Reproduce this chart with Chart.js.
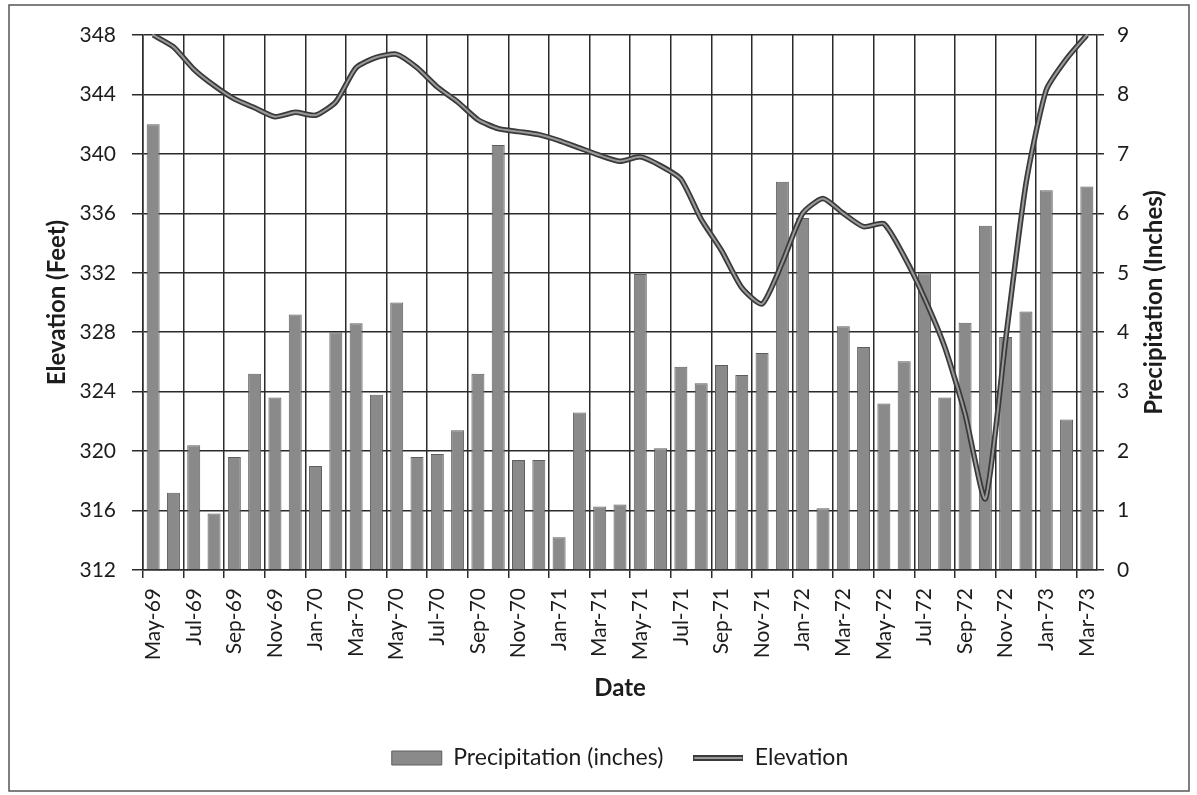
<!DOCTYPE html>
<html>
<head>
<meta charset="utf-8">
<script src="https://cdn.jsdelivr.net/npm/chart.js@4.4.1/dist/chart.umd.min.js"></script>
<style>
  html, body { margin: 0; padding: 0; background: #fff; }
  #wrap { position: relative; width: 1197px; height: 795px; }
</style>
</head>
<body>
<div id="wrap"><canvas id="chart" width="1197" height="795"></canvas></div>
<script>
// monthly record, May 1969 - Mar 1973
const months = [
  'May-69', 'Jun-69', 'Jul-69', 'Aug-69', 'Sep-69', 'Oct-69', 'Nov-69', 'Dec-69',
  'Jan-70', 'Feb-70', 'Mar-70', 'Apr-70', 'May-70', 'Jun-70', 'Jul-70', 'Aug-70',
  'Sep-70', 'Oct-70', 'Nov-70', 'Dec-70',
  'Jan-71', 'Feb-71', 'Mar-71', 'Apr-71', 'May-71', 'Jun-71', 'Jul-71', 'Aug-71',
  'Sep-71', 'Oct-71', 'Nov-71', 'Dec-71',
  'Jan-72', 'Feb-72', 'Mar-72', 'Apr-72', 'May-72', 'Jun-72', 'Jul-72', 'Aug-72',
  'Sep-72', 'Oct-72', 'Nov-72', 'Dec-72',
  'Jan-73', 'Feb-73', 'Mar-73'
];

// inches
const precipitation = [
  7.5, 1.3, 2.1, 0.95, 1.9, 3.3, 2.9, 4.3,
  1.75, 4.0, 4.15, 2.95, 4.5, 1.9, 1.95, 2.35,
  3.3, 7.15, 1.85, 1.85,
  0.55, 2.65, 1.07, 1.1, 4.98, 2.05, 3.42, 3.14,
  3.45, 3.28, 3.65, 6.53,
  5.92, 1.04, 4.1, 3.75, 2.8, 3.51, 4.99, 2.9,
  4.16, 5.79, 3.92, 4.35,
  6.39, 2.53, 6.45
];

// feet
const elevation = [
  348.0, 347.2, 345.7, 344.6, 343.7, 343.1, 342.5, 342.8,
  342.6, 343.5, 345.8, 346.5, 346.7, 345.8, 344.5, 343.5,
  342.3, 341.7, 341.5, 341.3,
  340.9, 340.4, 339.9, 339.5, 339.8, 339.2, 338.3, 335.6,
  333.5, 331.0, 329.9, 332.7,
  336.0, 337.0, 336.0, 335.1, 335.3, 333.1, 330.3, 327.0,
  322.5, 316.8, 327.5, 338.0,
  344.3, 346.4, 348.0
];

const elevTicks = [312, 316, 320, 324, 328, 332, 336, 340, 344, 348];
const precipTicks = [0, 1, 2, 3, 4, 5, 6, 7, 8, 9];

const gridDark = '#2b2b2b';
const textDark = '#1c1c1c';
const fontFamily = 'Lato, "Liberation Sans", sans-serif';

Chart.defaults.font.family = fontFamily;
Chart.defaults.color = textDark;

// legend swatch for the outlined elevation line
const lineSwatch = document.createElement('canvas');
lineSwatch.width = 50;
lineSwatch.height = 6;
(function () {
  const c = lineSwatch.getContext('2d');
  c.fillStyle = '#3a3a3a';
  c.fillRect(0, 0, 50, 6);
  c.fillStyle = '#9a9a9a';
  c.fillRect(1, 2, 48, 2);
})();

// white page with the thin frame around the whole figure
const framePlugin = {
  id: 'frame',
  beforeDraw(chart) {
    const c = chart.ctx;
    c.save();
    c.fillStyle = '#fff';
    c.fillRect(0, 0, chart.width, chart.height);
    c.strokeStyle = '#555';
    c.lineWidth = 1.5;
    c.strokeRect(9, 5, chart.width - 17, chart.height - 9);
    c.restore();
  }
};

// lighter core stroked over the dark elevation line
const doubleLine = {
  id: 'doubleLine',
  afterDatasetDraw(chart, args) {
    const meta = args.meta;
    if (meta.type !== 'line') return;
    const {ctx, chartArea} = chart;
    ctx.save();
    ctx.beginPath();
    ctx.rect(chartArea.left, chartArea.top - 4, chartArea.right - chartArea.left, chartArea.bottom - chartArea.top + 8);
    ctx.clip();
    ctx.beginPath();
    meta.dataset.path(ctx);
    ctx.lineJoin = 'round';
    ctx.lineCap = 'round';
    ctx.strokeStyle = '#9a9a9a';
    ctx.lineWidth = 2;
    ctx.stroke();
    ctx.restore();
  }
};

// right axis title, reading bottom to top like the left one
const rightTitle = {
  id: 'rightTitle',
  afterDraw(chart) {
    const s = chart.scales.y1;
    const c = chart.ctx;
    c.save();
    c.translate(s.right - 43, (s.top + s.bottom) / 2);
    c.rotate(-Math.PI / 2);
    c.font = 'bold 24px ' + fontFamily;
    c.textAlign = 'center';
    c.textBaseline = 'middle';
    c.fillStyle = textDark;
    c.fillText('Precipitation (Inches)', 0, 0);
    c.restore();
  }
};

new Chart(document.getElementById('chart'), {
  data: {
    labels: months,
    datasets: [
      {
        type: 'line',
        label: 'Elevation',
        data: elevation,
        yAxisID: 'y',
        borderColor: '#3a3a3a',
        backgroundColor: '#9a9a9a',
        borderWidth: 5.5,
        pointRadius: 0,
        tension: 0.2,
        fill: false
      },
      {
        type: 'bar',
        label: 'Precipitation (inches)',
        data: precipitation,
        yAxisID: 'y1',
        backgroundColor: '#8a8a8a',
        borderColor: '#5e5e5e',
        borderWidth: 1,
        barPercentage: 0.64,
        categoryPercentage: 1
      }
    ]
  },
  options: {
    responsive: false,
    animation: false,
    devicePixelRatio: 1,
    layout: { padding: { top: 35, left: 0, right: 0, bottom: 15.5 } },
    plugins: {
      tooltip: { enabled: false },
      legend: {
        position: 'bottom',
        fullSize: false,
        labels: {
          usePointStyle: true,
          pointStyleWidth: 50,
          boxHeight: 14,
          padding: 30,
          color: textDark,
          font: { size: 23 },
          sort: (a, b) => b.datasetIndex - a.datasetIndex,
          generateLabels(chart) {
            const items = Chart.defaults.plugins.legend.labels.generateLabels(chart);
            items.forEach(it => {
              const ds = chart.data.datasets[it.datasetIndex];
              it.pointStyle = ds.type === 'line' ? lineSwatch : 'rect';
            });
            return items;
          }
        }
      }
    },
    scales: {
      x: {
        type: 'category',
        offset: true,
        grid: {
          offset: true,
          color: ctx => (ctx.index % 2 === 0 ? gridDark : 'rgba(0,0,0,0)'),
          lineWidth: 1.5,
          tickLength: 8
        },
        border: { display: true, color: gridDark, width: 1.5 },
        ticks: {
          autoSkip: false,
          minRotation: 90,
          maxRotation: 90,
          padding: 10,
          color: textDark,
          font: { size: 21 },
          callback: function (value, index) {
            return index % 2 === 0 ? this.getLabelForValue(value) : '';
          }
        },
        title: {
          display: true,
          text: 'Date',
          color: textDark,
          font: { size: 24, weight: 'bold' },
          padding: { top: 0, bottom: 14 }
        },
        afterFit(s) { s.height = 146.5; }
      },
      y: {
        position: 'left',
        min: elevTicks[0],
        max: elevTicks[elevTicks.length - 1],
        afterBuildTicks(s) { s.ticks = elevTicks.map(v => ({ value: v })); },
        grid: { color: gridDark, lineWidth: 1.5, tickLength: 11 },
        border: { display: true, color: gridDark, width: 1.5 },
        ticks: { padding: 16, color: textDark, font: { size: 21 } },
        title: {
          display: true,
          text: 'Elevation (Feet)',
          color: textDark,
          font: { size: 24, weight: 'bold' },
          padding: { top: 43, bottom: 0 }
        },
        afterFit(s) { s.width = 143; }
      },
      y1: {
        position: 'right',
        min: precipTicks[0],
        max: precipTicks[precipTicks.length - 1],
        afterBuildTicks(s) { s.ticks = precipTicks.map(v => ({ value: v })); },
        grid: { drawOnChartArea: false, color: gridDark, lineWidth: 1.5, tickLength: 7 },
        border: { display: true, color: gridDark, width: 1.5 },
        ticks: { padding: 13, color: textDark, font: { size: 21 } },
        afterFit(s) { s.width = 100; }
      }
    }
  },
  plugins: [framePlugin, doubleLine, rightTitle]
});
</script>
</body>
</html>
